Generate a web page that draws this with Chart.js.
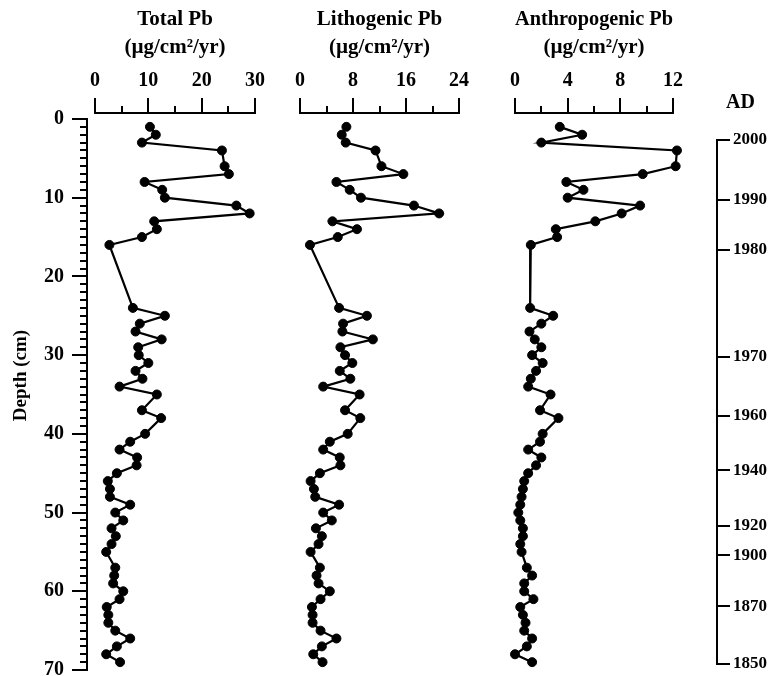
<!DOCTYPE html>
<html>
<head>
<meta charset="utf-8">
<script src="https://cdn.jsdelivr.net/npm/chart.js@4.4.1/dist/chart.umd.min.js"></script>
<style>
  body { margin: 0; background: #fff; width: 776px; height: 676px; overflow: hidden; position: relative; }
  canvas { position: absolute; top: 0; }
  #depthAxis { z-index: 5; }
</style>
</head>
<body>
<canvas id="totalChart" width="225" height="700" style="left:80px;width:225px;height:700px"></canvas>
<canvas id="lithoChart" width="260" height="700" style="left:250px;width:260px;height:700px"></canvas>
<canvas id="anthroChart" width="260" height="700" style="left:465px;width:260px;height:700px"></canvas>
<canvas id="adAxis" width="71" height="700" style="left:705px;width:71px;height:700px"></canvas>
<canvas id="depthAxis" width="90" height="700" style="left:0;width:90px;height:700px"></canvas>
<script>
// sample depths (cm)
const depths = [1, 2, 3, 4, 6, 7, 8, 9, 10, 11, 12, 13, 14, 15, 16,
  24, 25, 26, 27, 28, 29, 30, 31, 32, 33, 34, 35, 37, 38,
  40, 41, 42, 43, 44, 45, 46, 47, 48, 49, 50, 51, 52, 53, 54, 55,
  57, 58, 59, 60, 61, 62, 63, 64, 65, 66, 67, 68, 69];

// Pb fluxes (µg/cm²/yr)
const totalPb = [10.3, 11.4, 8.8, 23.8, 24.3, 25.1, 9.3, 12.6, 13.1, 26.5, 29.0, 11.1, 11.6, 8.8, 2.7,
  7.1, 13.1, 8.4, 7.6, 12.5, 8.1, 8.2, 10.0, 7.6, 8.9, 4.6, 11.6, 8.8, 12.4,
  9.4, 6.6, 4.6, 7.9, 7.8, 4.1, 2.4, 2.8, 2.8, 6.6, 3.8, 5.3, 3.1, 3.9, 3.1, 2.1,
  3.8, 3.6, 3.4, 5.3, 4.6, 2.2, 2.5, 2.5, 3.8, 6.6, 4.1, 2.1, 4.7];
const lithoPb = [7.0, 6.3, 6.9, 11.4, 12.3, 15.6, 5.5, 7.5, 9.2, 17.2, 21.0, 4.9, 8.6, 5.7, 1.5,
  5.9, 10.1, 6.5, 6.4, 11.0, 6.1, 6.8, 7.9, 6.0, 7.6, 3.5, 9.0, 6.8, 9.1,
  7.2, 4.5, 3.5, 6.0, 6.1, 3.0, 1.6, 2.1, 2.3, 5.9, 3.5, 4.8, 2.4, 3.3, 2.8, 1.6,
  3.0, 2.5, 2.8, 4.5, 3.1, 1.8, 1.9, 1.9, 3.1, 5.5, 3.3, 2.0, 3.4];
const anthroPb = [3.4, 5.1, 2.0, 12.3, 12.2, 9.7, 3.9, 5.2, 4.0, 9.5, 8.1, 6.1, 3.1, 3.2, 1.2,
  1.15, 2.9, 2.0, 1.1, 1.5, 2.0, 1.3, 2.1, 1.6, 1.2, 1.0, 2.7, 1.9, 3.3,
  2.1, 1.9, 1.0, 2.0, 1.6, 1.0, 0.7, 0.6, 0.5, 0.4, 0.25, 0.4, 0.6, 0.6, 0.4, 0.5,
  0.9, 1.3, 0.7, 0.7, 1.4, 0.4, 0.6, 0.8, 0.7, 1.3, 0.9, 0.0, 1.3];

// labelled ticks
const totalTicks = [0, 10, 20, 30];
const lithoTicks = [0, 8, 16, 24];
const anthroTicks = [0, 4, 8, 12];
const depthLabels = [0, 10, 20, 30, 40, 50, 60, 70];
// ladder marks every cm on the depth axis
const depthMarks = Array.from({ length: 71 }, (_, i) => i);

// AD chronology, year -> depth (cm)
const adYears = [2000, 1990, 1980, 1970, 1960, 1940, 1920, 1900, 1870, 1850];
const adDepths = [2.7, 10.3, 16.6, 30.2, 37.7, 44.6, 51.7, 55.4, 61.9, 69.2];

const FONT = "'Liberation Serif', 'Times New Roman', serif";
const BLACK = '#000';

// short ticks for unlabelled marks: gap first, then the inner 7px
const tickDash = labels => c => (c.tick && labels.includes(c.tick.value)) ? [] : [7, 8];
const tickDashOffset = labels => c => (c.tick && labels.includes(c.tick.value)) ? 0 : 7;
// a blank (not empty) label keeps the tick mark drawn
const labelOnly = labels => v => labels.includes(v) ? v : ' ';

function panel(id, title, values, labels, step, padLeft, padRight) {
  new Chart(document.getElementById(id), {
    type: 'scatter',
    data: {
      datasets: [{
        data: values.map((v, i) => ({ x: v, y: depths[i] })),
        showLine: true,
        borderColor: BLACK,
        borderWidth: 2.2,
        pointRadius: 4.5,
        pointBorderWidth: 1,
        pointBackgroundColor: BLACK,
        pointBorderColor: BLACK,
        clip: false
      }]
    },
    options: {
      responsive: false,
      animation: false,
      layout: { padding: { left: padLeft, right: padRight, top: 0, bottom: 30 } },
      plugins: { legend: { display: false }, tooltip: { enabled: false } },
      scales: {
        x: {
          type: 'linear',
          position: 'top',
          min: 0,
          max: labels[labels.length - 1],
          afterFit: s => { s.height = 113; },
          border: { color: BLACK, width: 2 },
          grid: {
            drawOnChartArea: false, color: BLACK, lineWidth: 2, tickLength: 15,
            tickBorderDash: tickDash(labels), tickBorderDashOffset: tickDashOffset(labels)
          },
          ticks: {
            stepSize: step, maxTicksLimit: 50, autoSkip: false, maxRotation: 0, padding: 5, color: BLACK,
            font: { family: FONT, size: 20, weight: 'bold' },
            callback: labelOnly(labels)
          },
          title: {
            display: true, text: [title, '(µg/cm²/yr)'], color: BLACK,
            font: { family: FONT, size: 21, weight: 'bold', lineHeight: 1.33 },
            padding: { top: 6, bottom: 0 }
          }
        },
        // hidden depth scale, 0 cm sits a few px below the top axis
        y: { type: 'linear', reverse: true, min: -0.76, max: 70, display: false }
      }
    }
  });
}

panel('totalChart', 'Total Pb', totalPb, totalTicks, 5, 15, 50);
panel('lithoChart', 'Lithogenic Pb', lithoPb, lithoTicks, 4, 50, 51);
panel('anthroChart', 'Anthropogenic Pb', anthroPb, anthroTicks, 2, 50, 52);

// left depth ladder: the narrow chart area (x 80..87) carries a grid line every cm,
// labelled depths get an extra outer tick; the axis title sits on its own outer axis
new Chart(document.getElementById('depthAxis'), {
  type: 'scatter',
  data: { datasets: [] },
  options: {
    responsive: false,
    animation: false,
    layout: { padding: { left: 0, right: 3, top: 119, bottom: 30 } },
    plugins: { legend: { display: false }, tooltip: { enabled: false } },
    scales: {
      x: { display: false },
      yTitle: {
        type: 'linear', position: 'left', weight: 2, reverse: true, min: 0, max: 70,
        afterFit: s => { s.width = 32; },
        border: { display: false },
        grid: { display: false, drawTicks: false },
        ticks: { display: false },
        title: {
          display: true, text: '        Depth (cm)', color: BLACK,
          font: { family: FONT, size: 19, weight: 'bold' },
          padding: { top: 10, bottom: 0 }
        }
      },
      y: {
        type: 'linear', position: 'left', weight: 1, reverse: true, min: 0, max: 70,
        afterFit: s => { s.width = 48; },
        afterBuildTicks: s => { s.ticks = depthMarks.map(v => ({ value: v })); },
        border: { display: false },
        grid: {
          drawOnChartArea: true, color: BLACK, lineWidth: 2, tickLength: 8,
          tickColor: c => (c.tick && depthLabels.includes(c.tick.value)) ? BLACK : 'rgba(0,0,0,0)'
        },
        ticks: {
          autoSkip: false, padding: 8, color: BLACK,
          font: { family: FONT, size: 20, weight: 'bold' },
          callback: labelOnly(depthLabels)
        }
      },
      yLine: {
        type: 'linear', position: 'right', reverse: true, min: 0, max: 70,
        afterFit: s => { s.width = 0; },
        border: { display: true, color: BLACK, width: 2 },
        grid: { display: false, drawTicks: false },
        ticks: { display: false }
      }
    }
  }
});

// right AD axis
new Chart(document.getElementById('adAxis'), {
  type: 'scatter',
  data: { datasets: [] },
  options: {
    responsive: false,
    animation: false,
    layout: { padding: { left: 0, right: 0, top: 0, bottom: 36 } },
    plugins: {
      legend: { display: false },
      tooltip: { enabled: false },
      title: {
        display: true, text: 'AD', color: BLACK,
        font: { family: FONT, size: 20, weight: 'bold' },
        padding: { top: 91, bottom: 25 }
      }
    },
    scales: {
      x: { display: false },
      y: {
        type: 'linear', position: 'right', reverse: true,
        min: adDepths[0], max: adDepths[adDepths.length - 1],
        afterFit: s => { s.width = 59; },
        afterBuildTicks: s => { s.ticks = adDepths.map(v => ({ value: v })); },
        border: { color: BLACK, width: 2 },
        grid: { drawOnChartArea: false, color: BLACK, lineWidth: 2, tickLength: 13 },
        ticks: {
          autoSkip: false, padding: 3, color: BLACK,
          font: { family: FONT, size: 17, weight: 'bold' },
          callback: (v, i) => adYears[i]
        }
      }
    }
  }
});
</script>
</body>
</html>
